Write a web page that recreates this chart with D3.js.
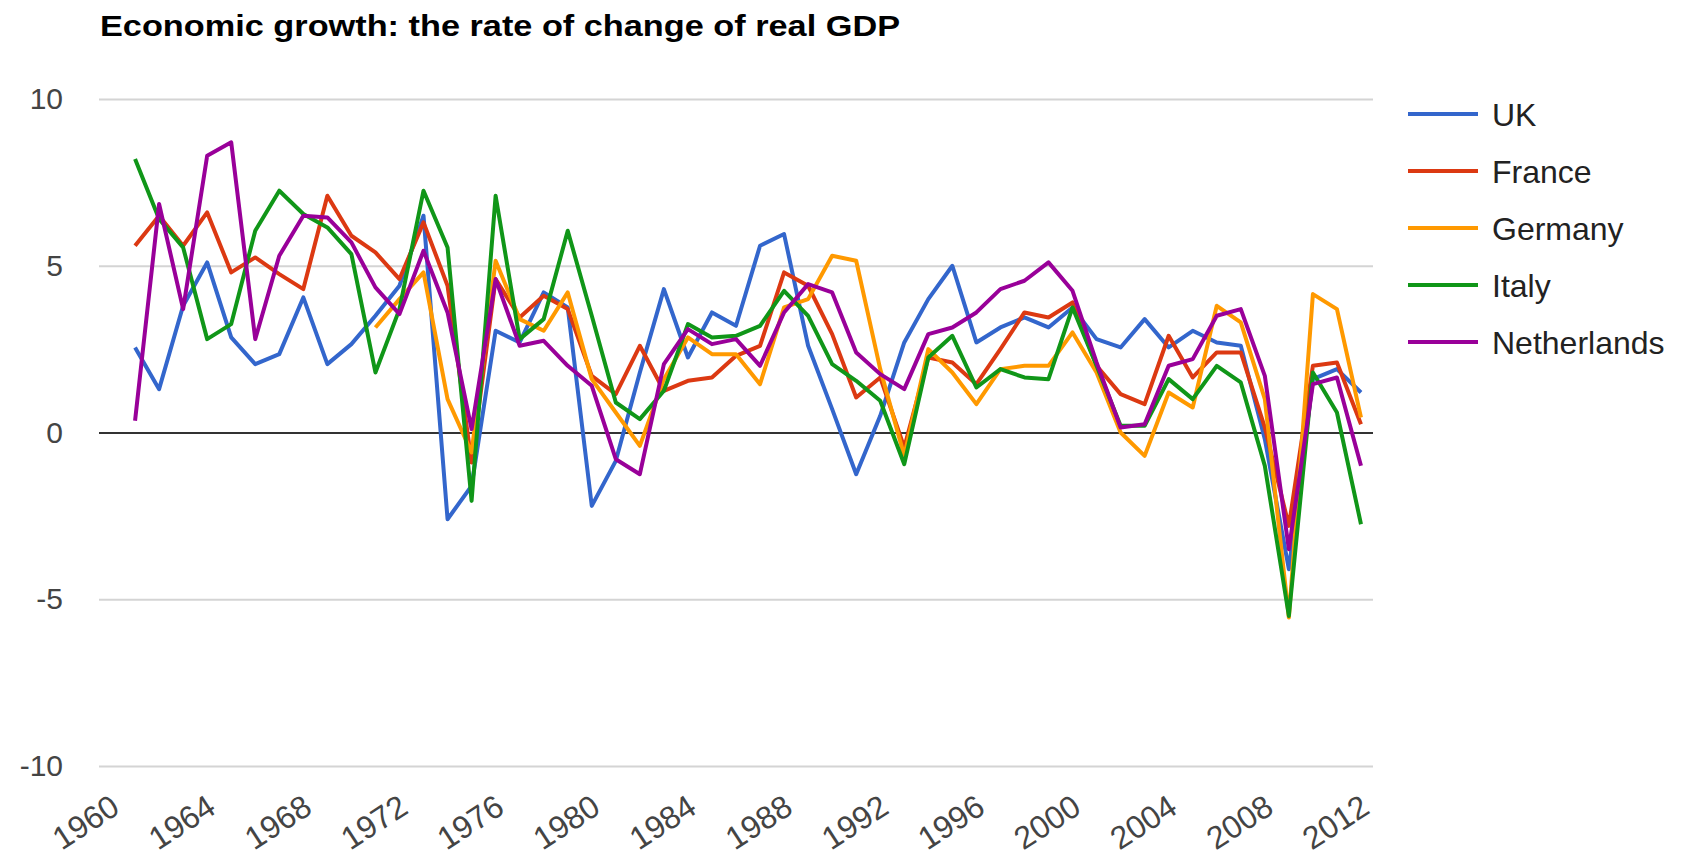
<!DOCTYPE html>
<html>
<head>
<meta charset="utf-8">
<script src="https://cdn.jsdelivr.net/npm/d3@7"></script>
<style>
  html, body { margin: 0; padding: 0; background: #fff; }
  svg { display: block; font-family: Arial, "Liberation Sans", sans-serif; }
</style>
</head>
<body>
<div id="chart"></div>
<script>
// categories: 1960 has no data in any series (it only holds the first slot)
var years = d3.range(1960, 2013);
var yTicks = [-10, -5, 0, 5, 10];
var xTicks = years.filter(function(y) { return y % 4 === 0; });

var countries = ["UK", "France", "Germany", "Italy", "Netherlands"];
var colors = ["#3366cc", "#dc3912", "#ff9900", "#109618", "#990099"];

// annual % change of real GDP, 1960..2012 (null = no value)
var uk = [null,
  2.55, 1.3, 3.8, 5.1, 2.85, 2.05, 2.35, 4.05, 2.05, 2.65,
  3.5, 4.4, 6.5, -2.6, -1.6, 3.05, 2.7, 4.2, 3.75, -2.2,
  -0.85, 1.8, 4.3, 2.25, 3.6, 3.2, 5.6, 5.95, 2.6, 0.7,
  -1.25, 0.5, 2.7, 4.0, 5.0, 2.7, 3.15, 3.45, 3.15, 3.75,
  2.8, 2.55, 3.4, 2.55, 3.05, 2.7, 2.6, -0.2, -4.1, 1.6,
  1.9, 1.2];
var france = [null,
  5.6, 6.5, 5.6, 6.6, 4.8, 5.25, 4.75, 4.3, 7.1, 5.9,
  5.4, 4.6, 6.3, 4.4, -0.9, 4.6, 3.45, 4.1, 3.7, 1.7,
  1.15, 2.6, 1.25, 1.55, 1.65, 2.3, 2.6, 4.8, 4.4, 2.95,
  1.05, 1.65, -0.45, 2.25, 2.1, 1.45, 2.5, 3.6, 3.45, 3.9,
  2.0, 1.15, 0.85, 2.9, 1.65, 2.4, 2.4, 0.15, -2.8, 2.0,
  2.1, 0.25];
var germany = [null,
  null, null, null, null, null, null, null, null, null, null,
  3.15, 4.0, 4.8, 1.0, -0.6, 5.15, 3.4, 3.05, 4.2, 1.6,
  0.6, -0.4, 1.6, 2.85, 2.35, 2.35, 1.45, 3.75, 4.0, 5.3,
  5.15, 1.9, -0.7, 2.5, 1.8, 0.85, 1.9, 2.0, 2.0, 3.0,
  1.8, 0.0, -0.7, 1.2, 0.75, 3.8, 3.3, 1.0, -5.55, 4.15,
  3.7, 0.45];
var italy = [null,
  8.2, 6.4, 5.55, 2.8, 3.25, 6.05, 7.25, 6.55, 6.15, 5.35,
  1.8, 3.7, 7.25, 5.55, -2.05, 7.1, 2.8, 3.4, 6.05, 3.5,
  0.9, 0.4, 1.25, 3.25, 2.85, 2.9, 3.2, 4.25, 3.5, 2.05,
  1.55, 0.95, -0.95, 2.25, 2.9, 1.35, 1.9, 1.65, 1.6, 3.75,
  2.0, 0.2, 0.2, 1.6, 1.0, 2.0, 1.5, -1.0, -5.5, 1.8,
  0.6, -2.75];
var netherlands = [null,
  0.35, 6.85, 3.7, 8.3, 8.7, 2.8, 5.3, 6.5, 6.45, 5.7,
  4.35, 3.55, 5.45, 3.6, 0.1, 4.6, 2.6, 2.75, 2.0, 1.4,
  -0.8, -1.25, 2.05, 3.1, 2.65, 2.8, 2.0, 3.6, 4.45, 4.2,
  2.4, 1.75, 1.3, 2.95, 3.15, 3.6, 4.3, 4.55, 5.1, 4.25,
  2.1, 0.15, 0.25, 2.0, 2.2, 3.5, 3.7, 1.7, -3.5, 1.45,
  1.65, -1.0];

var series = [uk, france, germany, italy, netherlands];

var width = 1685, height = 858;
var plotLeft = 99, plotRight = 1373, plotTop = 99, plotBottom = 766;

var svg = d3.select("#chart")
  .append("svg")
  .attr("width", width)
  .attr("height", height);

svg.append("text")
  .attr("x", 100)
  .attr("y", 36)
  .attr("font-size", 30)
  .attr("font-weight", "bold")
  .attr("fill", "#000")
  .attr("textLength", 800)
  .attr("lengthAdjust", "spacingAndGlyphs")
  .text("Economic growth: the rate of change of real GDP");

var x = d3.scalePoint().domain(years).range([plotLeft, plotRight]).padding(0.5);
var y = d3.scaleLinear().domain([-10, 10]).range([plotBottom, plotTop]);

// horizontal gridlines + y labels (plain hyphen for negatives)
var yAxis = svg.append("g")
  .attr("transform", "translate(" + plotLeft + ",0)")
  .call(d3.axisLeft(y).tickValues(yTicks).tickSize(-(plotRight - plotLeft))
    .tickPadding(36).tickFormat(function(d) { return String(d); }));
yAxis.select(".domain").remove();
yAxis.selectAll(".tick line")
  .attr("stroke", function(d) { return d === 0 ? "#333" : "#d4d4d4"; })
  .attr("stroke-width", 2);
yAxis.selectAll(".tick text")
  .attr("font-size", 30)
  .attr("fill", "#444")
  .attr("font-family", "Arial, 'Liberation Sans', sans-serif");

// x labels, slanted
var xAxis = svg.append("g")
  .attr("transform", "translate(0," + plotBottom + ")")
  .call(d3.axisBottom(x).tickValues(xTicks).tickSize(0).tickFormat(function(d) { return String(d); }));
xAxis.select(".domain").remove();
xAxis.selectAll(".tick text")
  .attr("font-size", 32)
  .attr("fill", "#444")
  .attr("font-family", "Arial, 'Liberation Sans', sans-serif")
  .attr("text-anchor", "end")
  .attr("y", 0)
  .attr("dy", 0)
  .attr("transform", "translate(10,46) rotate(-33)");

var line = d3.line()
  .defined(function(d) { return d != null; })
  .x(function(d, i) { return x(years[i]); })
  .y(function(d) { return y(d); });

svg.selectAll("path.series")
  .data(series)
  .enter().append("path")
  .attr("class", "series")
  .attr("d", line)
  .attr("fill", "none")
  .attr("stroke", function(d, i) { return colors[i]; })
  .attr("stroke-width", 4)
  .attr("stroke-linejoin", "round");

// legend
var legend = svg.selectAll("g.legend")
  .data(countries)
  .enter().append("g")
  .attr("class", "legend")
  .attr("transform", function(d, i) { return "translate(1408," + (114 + i * 57) + ")"; });
legend.append("line")
  .attr("x1", 0).attr("x2", 70)
  .attr("stroke", function(d, i) { return colors[i]; })
  .attr("stroke-width", 4);
legend.append("text")
  .attr("x", 84)
  .attr("dy", "0.36em")
  .attr("font-size", 32)
  .attr("fill", "#222")
  .text(function(d) { return d; });
</script>
</body>
</html>
